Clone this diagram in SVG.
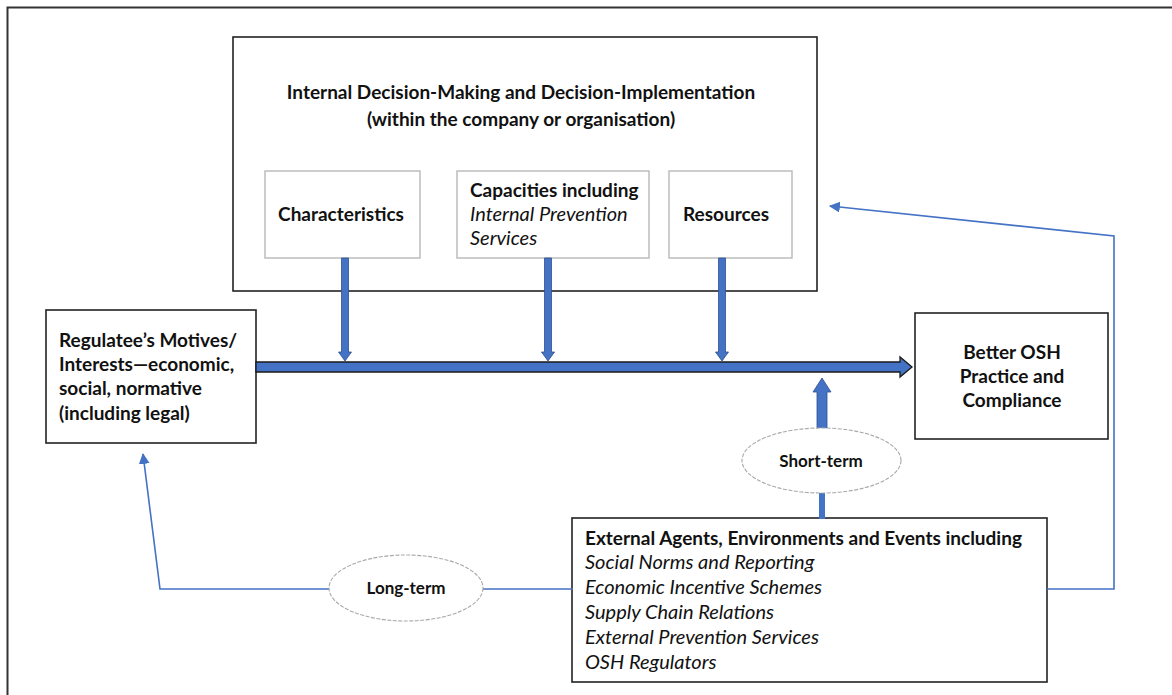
<svg xmlns="http://www.w3.org/2000/svg" width="1172" height="695" viewBox="0 0 1172 695">
<defs>
<style>
text{font-family:Lato,"Liberation Sans",sans-serif;font-size:19px;fill:#111;}
.b{font-weight:bold;}
.i{font-style:italic;font-size:20px;}
.e{font-weight:bold;font-size:17px;}
.box{fill:#fff;stroke:#222;stroke-width:1.6;}
.sub{fill:#fff;stroke:#b8b8b8;stroke-width:1.4;}
.ell{fill:#fff;stroke:#a8a8a8;stroke-width:1.1;stroke-dasharray:4 1.5;}
.thick{fill:#4472c4;stroke:#2f4f8f;stroke-width:0.8;}
.thin{fill:none;stroke:#4472c4;stroke-width:1.6;}
</style>
<marker id="ah2" viewBox="0 0 10 10" refX="9" refY="5" markerWidth="11" markerHeight="11" orient="auto" markerUnits="userSpaceOnUse">
<path d="M0,0 L10,5 L0,10 z" fill="#4472c4"/>
</marker>
</defs>
<rect width="1172" height="695" fill="#fff"/>
<path d="M7.5,695 V7.5 H1172" fill="none" stroke="#333" stroke-width="2"/>

<g id="internal">
<rect class="box" x="233" y="37" width="584" height="254"/>
<text class="b" x="521" y="99" text-anchor="middle">Internal Decision-Making and Decision-Implementation</text>
<text class="b" x="521" y="126" text-anchor="middle">(within the company or organisation)</text>
</g>
<g id="characteristics">
<rect class="sub" x="265" y="171" width="155" height="87"/>
<text class="b" x="341" y="221" text-anchor="middle">Characteristics</text>
</g>
<g id="capacities">
<rect class="sub" x="457" y="171" width="192" height="87"/>
<text class="b" x="470" y="197">Capacities including</text>
<text class="i" x="470" y="221">Internal Prevention</text>
<text class="i" x="470" y="245">Services</text>
</g>
<g id="resources">
<rect class="sub" x="669" y="171" width="123" height="87"/>
<text class="b" x="726" y="221" text-anchor="middle">Resources</text>
</g>
<g id="regulatee">
<rect class="box" x="46" y="310" width="210" height="133"/>
<text class="b" x="59" y="347">Regulatee’s Motives/</text>
<text class="b" x="59" y="371">Interests—economic,</text>
<text class="b" x="59" y="395">social, normative</text>
<text class="b" x="59" y="420">(including legal)</text>
</g>
<g id="better">
<rect class="box" x="915" y="313" width="193" height="126"/>
<text class="b" x="1012" y="359" text-anchor="middle">Better OSH</text>
<text class="b" x="1012" y="383" text-anchor="middle">Practice and</text>
<text class="b" x="1012" y="407" text-anchor="middle">Compliance</text>
</g>
<g id="external">
<rect class="box" x="572" y="518" width="475" height="164"/>
<text class="b" x="585" y="545">External Agents, Environments and Events including</text>
<text class="i" x="585" y="569">Social Norms and Reporting</text>
<text class="i" x="585" y="594">Economic Incentive Schemes</text>
<text class="i" x="585" y="619">Supply Chain Relations</text>
<text class="i" x="585" y="644">External Prevention Services</text>
<text class="i" x="585" y="669">OSH Regulators</text>
</g>

<g id="connectors">
<polygon class="thick" points="341.5,258 348.5,258 348.5,352 351.5,352 345,361 338.5,352 341.5,352"/>
<polygon class="thick" points="544.5,258 551.5,258 551.5,352 554.5,352 548,361 541.5,352 544.5,352"/>
<polygon class="thick" points="718.5,258 725.5,258 725.5,352 728.5,352 722,361 715.5,352 718.5,352"/>
<polygon points="256,362 900,362 900,357 912,367 900,377 900,372 256,372" fill="#4472c4" stroke="#1a1a1a" stroke-width="1.3"/>
<polygon class="thick" points="817,429 827,429 827,392 831,392 822,378 813,392 817,392"/>
<rect x="819" y="493" width="6" height="26" fill="#4472c4"/>
<polyline class="thin" points="1047,589 1114,589 1114,236 830,206" marker-end="url(#ah2)"/>
<polyline class="thin" points="573,589 160,589 143,454" marker-end="url(#ah2)"/>
</g>

<g id="short-term">
<ellipse class="ell" cx="821.5" cy="460.5" rx="79.5" ry="32.5"/>
<text class="e" x="821" y="467" text-anchor="middle">Short-term</text>
</g>
<g id="long-term">
<ellipse class="ell" cx="406" cy="588" rx="77" ry="33"/>
<text class="e" x="406" y="594" text-anchor="middle">Long-term</text>
</g>
</svg>
